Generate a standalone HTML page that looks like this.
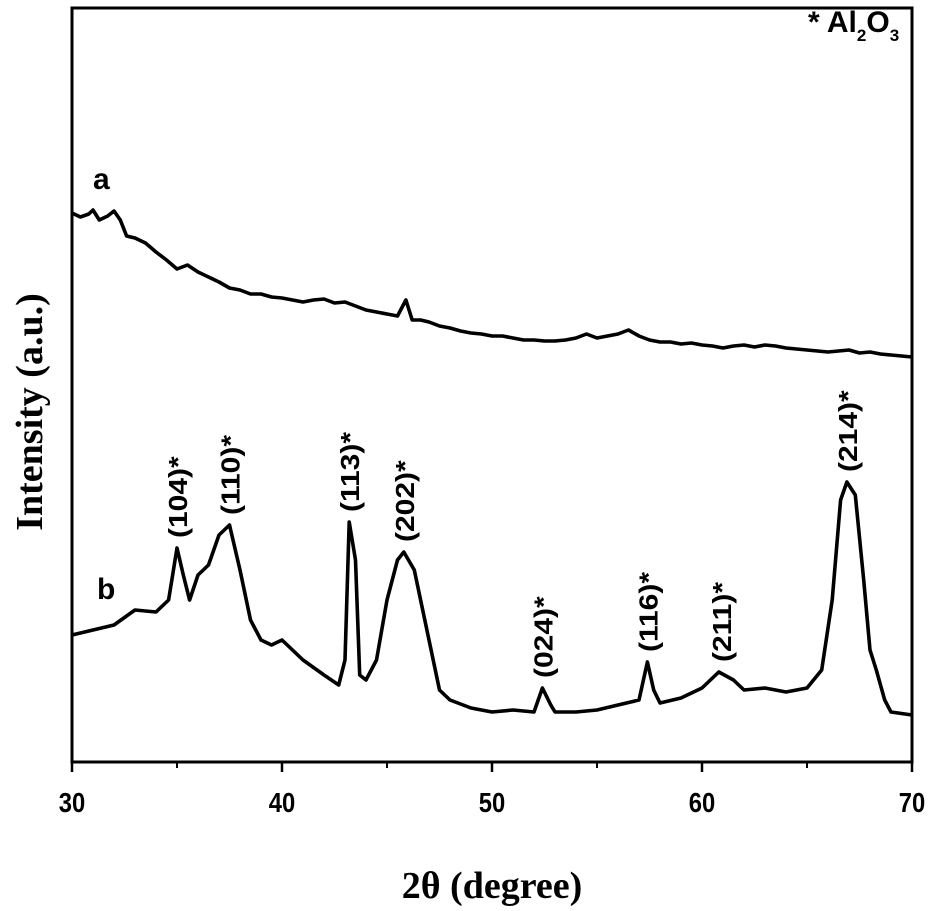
<!DOCTYPE html>
<html><head><meta charset="utf-8"><style>
body{margin:0;background:#fff}
svg{display:block}
.tk{font-family:"Liberation Sans",sans-serif;font-weight:bold;font-size:28px}
.pl{font-family:"Liberation Sans",sans-serif;font-weight:bold;font-size:30px}
.ti{font-family:"Liberation Serif",serif;font-weight:bold;font-size:38px}
</style></head><body>
<svg id="c" width="931" height="911">
<rect x="72" y="8" width="840" height="754" fill="none" stroke="#000" stroke-width="3"/>
<g id="ticks"></g>
<g id="series"></g>
<g id="peaks"></g>
<text x="93" y="189" class="pl" font-size="26">a</text>
<text x="97" y="599" class="pl" font-size="26">b</text>
<text x="808" y="32" class="pl" font-size="25">* Al<tspan font-size="17" dy="9">2</tspan><tspan dy="-9">O</tspan><tspan font-size="17" dy="9">3</tspan></text>
<text transform="translate(42,412) rotate(-90)" text-anchor="middle" class="ti" font-size="46">Intensity (a.u.)</text>
<text x="492" y="898" text-anchor="middle" class="ti">2θ (degree)</text>
</svg>
<script>
const xTicks=[30,40,50,60,70];
const xMinor=[35,45,55,65];
const aX=[30,30.4,30.8,31,31.3,31.7,32,32.3,32.6,33,33.5,34,34.5,35,35.5,36,36.5,37,37.5,38,38.5,39,39.5,40,40.5,41,41.5,42,42.5,43,43.5,44,44.5,45,45.5,45.9,46.2,46.6,47,47.5,48,48.5,49,49.5,50,50.5,51,51.5,52,52.5,53,53.5,54,54.5,55,55.5,56,56.5,57,57.5,58,58.5,59,59.5,60,60.5,61,61.5,62,62.5,63,63.5,64,64.5,65,65.5,66,66.5,67,67.5,68,68.5,69,69.5,70];
const aY=[549,545,548,552,542,546,551,542,526,524,519,510,502,493,497,490,485,480,474,472,468,468,465,464,462,460,462,463,459,460,456,452,450,448,446,462,442,442,440,436,434,431,429,428,426,426,424,422,422,421,421,422,424,428,424,426,428,432,426,422,420,420,418,419,417,416,414,416,417,415,417,416,414,413,412,411,410,411,412,409,410,408,407,406,405];
const bX=[30,31,32,33,34,34.6,35,35.3,35.6,36,36.5,37,37.5,38,38.5,39,39.5,40,41,42,42.7,43,43.2,43.5,43.7,44,44.5,45,45.5,45.8,46.3,47,47.5,48,49,50,51,52,52.4,52.8,53,54,55,56,57,57.4,57.7,58,59,60,60.8,61.5,62,63,64,65,65.7,66.2,66.6,66.9,67.3,67.7,68,68.3,68.7,69,70];
const bY=[127,132,137,152,150,162,214,187,162,187,197,227,237,192,142,122,117,122,102,87,77,102,240,202,87,82,102,162,202,210,192,122,72,62,54,50,52,50,74,57,50,50,52,57,62,100,72,59,64,74,90,82,72,74,70,74,92,162,262,280,267,182,112,92,62,50,47];
const peakLabels=["(104)*","(110)*","(113)*","(202)*","(024)*","(116)*","(211)*","(214)*"];
const peakPos=[35,37.5,43.2,45.8,52.4,57.4,60.9,66.9];
const peakInt=[214,237,240,210,74,100,90,280];

const X0=72,X1=912,Y0=762;
const xs=v=>X0+(v-30)/(70-30)*(X1-X0);
const ys=v=>Y0-v;
const NS="http://www.w3.org/2000/svg";
const tg=document.getElementById('ticks');
xTicks.forEach(t=>{
 const l=document.createElementNS(NS,'line');
 l.setAttribute('x1',xs(t));l.setAttribute('x2',xs(t));l.setAttribute('y1',Y0);l.setAttribute('y2',Y0+10);
 l.setAttribute('stroke','#000');l.setAttribute('stroke-width','2.5');
 
 
 tg.appendChild(l);
 const tx=document.createElementNS(NS,'text');
 tx.setAttribute('transform','translate('+xs(t)+','+(Y0+50)+') scale(0.85,1)');
 tx.setAttribute('text-anchor','middle');tx.setAttribute('class','tk');
 tx.textContent=t;
 
 
 tg.appendChild(tx);
});
xMinor.forEach(t=>{
 const l=document.createElementNS(NS,'line');
 l.setAttribute('x1',xs(t));l.setAttribute('x2',xs(t));l.setAttribute('y1',Y0);l.setAttribute('y2',Y0+6);
 l.setAttribute('stroke','#000');l.setAttribute('stroke-width','2');
 
 
 tg.appendChild(l);
});
const sg=document.getElementById('series');
function line(X,Y,name){
 const p=document.createElementNS(NS,'polyline');
 p.setAttribute('points',X.map((x,i)=>xs(x)+','+ys(Y[i])).join(' '));
 p.setAttribute('fill','none');p.setAttribute('stroke','#000');p.setAttribute('stroke-width','3.6');p.setAttribute('stroke-linejoin','round');
 
 
 sg.appendChild(p);
}
line(aX,aY,'series-a-line');
line(bX,bY,'series-b-line');
const pg=document.getElementById('peaks');
peakLabels.forEach((s,i)=>{
 const t=document.createElementNS(NS,'text');
 const x=xs(peakPos[i])+10,y=ys(peakInt[i])-10;
 t.setAttribute('transform','translate('+x+','+y+') rotate(-90) scale(1,0.85)');
 t.setAttribute('class','pl');
 t.textContent=s;
 
 
 pg.appendChild(t);
});
</script>
</body></html>
